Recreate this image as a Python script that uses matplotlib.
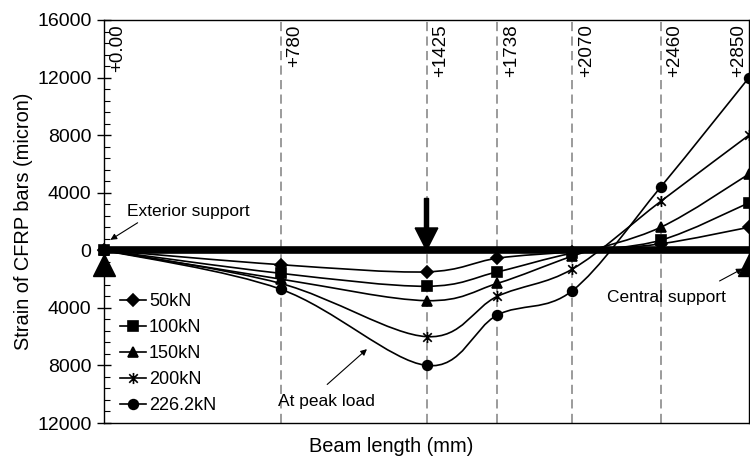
import numpy as np
import matplotlib
matplotlib.use("Agg")
import matplotlib.pyplot as plt
from matplotlib.path import Path
from matplotlib.patches import PathPatch
from matplotlib.ticker import MultipleLocator, AutoMinorLocator, FuncFormatter

plt.rcParams['font.family'] = ['Liberation Sans', 'DejaVu Sans']

# gauge positions along the beam (mm) and strain readings per load level
positions = [0, 780, 1425, 1738, 2070, 2460, 2850]
pos_labels = ['+0.00', '+780', '+1425', '+1738', '+2070', '+2460', '+2850']
loads = ['50kN', '100kN', '150kN', '200kN', '226.2kN']
strain_50 = [0, -1000, -1500, -550, -100, 450, 1600]
strain_100 = [0, -1600, -2500, -1500, -200, 700, 3300]
strain_150 = [0, -2000, -3500, -2300, -400, 1600, 5300]
strain_200 = [0, -2300, -6000, -3200, -1300, 3400, 8000]
strain_226 = [0, -2700, -8000, -4500, -2800, 4400, 12000]
load_point = 1425
supports = [0, 2850]

# asterisk marker like the excel "star"
star = Path([(-1, -1), (1, 1), (-1, 1), (1, -1), (0, -1.3), (0, 1.3)],
            [Path.MOVETO, Path.LINETO, Path.MOVETO, Path.LINETO, Path.MOVETO, Path.LINETO])
markers = ['D', 's', '^', star, 'o']
msizes = [6, 6.5, 7.5, 8, 7]


def smooth_path(xs, ys):
    # excel style smoothed line: catmull-rom through the points as cubic beziers
    pts = np.column_stack([xs, ys]).astype(float)
    n = len(pts)
    verts = [pts[0]]
    codes = [Path.MOVETO]
    for i in range(n - 1):
        p0 = pts[i - 1] if i > 0 else pts[i]
        p1 = pts[i]
        p2 = pts[i + 1]
        p3 = pts[i + 2] if i + 2 < n else pts[i + 1]
        verts += [p1 + (p2 - p0) / 6, p2 - (p3 - p1) / 6, p2]
        codes += [Path.CURVE4] * 3
    return Path(verts, codes)


fig = plt.figure(figsize=(7.5, 4.62), dpi=100)
ax = fig.add_axes([104 / 750, 1 - 423 / 462, 645 / 750, 403 / 462])

ax.set_xlim(0, 2850)
ax.set_ylim(-12000, 16000)

for p in positions[1:-1]:
    ax.axvline(p, color='#808080', lw=1.1, dashes=(6, 3.5), zorder=1)

for p, lab in zip(positions, pos_labels):
    if p == positions[-1]:
        ax.annotate(lab, xy=(p, 1), xycoords=('data', 'axes fraction'), xytext=(-1, -3),
                    textcoords='offset points', rotation=90, ha='right', va='top', fontsize=13.5)
    else:
        ax.annotate(lab, xy=(p, 1), xycoords=('data', 'axes fraction'), xytext=(4, -3),
                    textcoords='offset points', rotation=90, ha='left', va='top', fontsize=13.5)

# the beam
ax.plot([positions[0], positions[-1]], [0, 0], color='black', lw=5.5, solid_capstyle='butt', zorder=2)

series = [strain_50, strain_100, strain_150, strain_200, strain_226]
for vals, lab, mk, ms in zip(series, loads, markers, msizes):
    ax.add_patch(PathPatch(smooth_path(positions, vals), fill=False, ec='black', lw=1.2, zorder=3))
    ax.plot(positions, vals, ls='none', marker=mk, ms=ms, color='black',
            mfc='black', mew=1.2, clip_on=False, zorder=4)
    ax.plot([], [], color='black', lw=1.2, marker=mk, ms=ms, mew=1.2, label=lab)

# supports
ax.plot(supports, [-1050, -1050], ls='none', marker='^', ms=16, color='black', clip_on=False, zorder=5)

# applied load arrow
ax.arrow(load_point, 3600, 0, -3600, width=18, head_width=100, head_length=1550,
         length_includes_head=True, color='black', zorder=5)

arrow = dict(arrowstyle='-|>', color='black', lw=0.8, mutation_scale=9)
ax.annotate('', xy=(18, 625), xytext=(159, 2015), arrowprops=arrow)
ax.text(371, 2710, 'Exterior support', fontsize=12.5, ha='center', va='center')
ax.annotate('', xy=(2833, -1180), xytext=(2709, -2224), arrowprops=arrow)
ax.text(2483, -3270, 'Central support', fontsize=12.5, ha='center', va='center')
ax.annotate('', xy=(1171, -6740), xytext=(977, -9450), arrowprops=arrow)
ax.text(769, -10500, 'At peak load', fontsize=12.5, ha='left', va='center')

ax.legend(loc='upper left', bbox_to_anchor=(0.0248, 0.322), frameon=False, fontsize=13,
          handlelength=1.45, handletextpad=0.15, labelspacing=0.5, borderpad=0, borderaxespad=0)

ax.set_xticks([])
ax.yaxis.set_major_locator(MultipleLocator(4000))
ax.yaxis.set_minor_locator(AutoMinorLocator(5))
ax.yaxis.set_major_formatter(FuncFormatter(lambda v, p: '%d' % abs(v)))
ax.tick_params(axis='y', which='major', direction='inout', length=10, width=1, labelsize=14, pad=4)
ax.tick_params(axis='y', which='minor', direction='in', length=4.5, width=0.8)
for s in ax.spines.values():
    s.set_linewidth(1)

ax.set_ylabel('Strain of CFRP bars (micron)', fontsize=14.4)
ax.yaxis.set_label_coords(-0.110, 0.5)
ax.set_xlabel('Beam length (mm)', fontsize=14.4)
ax.xaxis.set_label_coords(0.445, -0.035)

fig.savefig('out.png', dpi=100)
